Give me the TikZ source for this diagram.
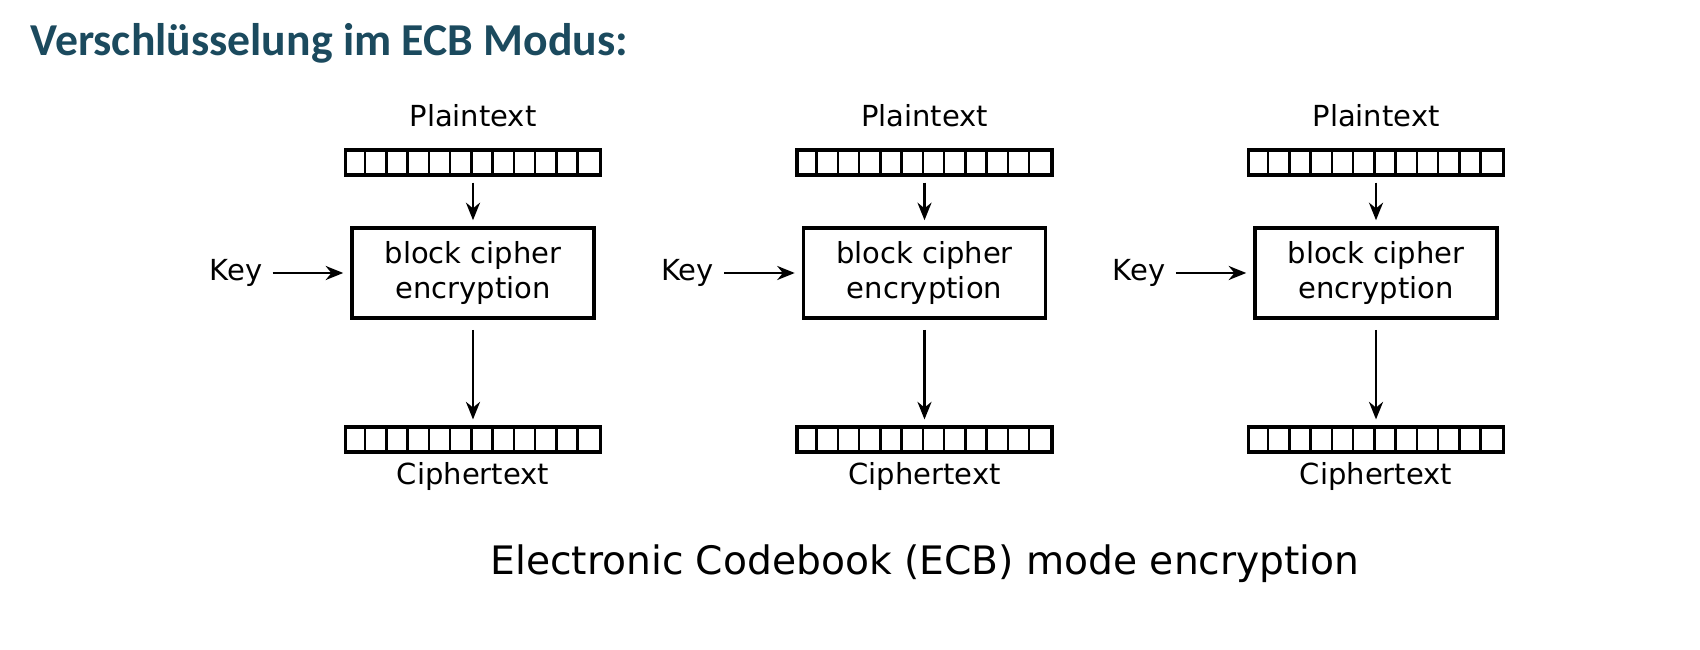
\documentclass[tikz,border=0pt]{standalone}
\usepackage{fontspec}
\setmainfont{DejaVu Sans}
\newfontfamily\titlefont{Carlito}
\usetikzlibrary{arrows.meta, positioning}
\definecolor{titleblue}{HTML}{1B4A5E}
\tikzset{
  label/.style={font=\fontsize{16.5}{20}\selectfont, inner sep=0pt},
  bar/.style={rectangle, draw=black, line width=1.8pt, minimum width=5.1cm, minimum height=0.5cm, inner sep=0pt},
  cipherbox/.style={rectangle, draw=black, line width=2pt, minimum width=4.84cm, minimum height=1.8cm, align=center, font=\fontsize{16.5}{20}\selectfont},
  arrow/.style={line width=1.4pt, -{Stealth[length=10pt, width=8pt]}}
}
\begin{document}
\begin{tikzpicture}
\useasboundingbox (0,0) rectangle (34,-13);
\node[anchor=west, text=titleblue, font=\titlefont\bfseries\fontsize{26}{31}\selectfont, inner sep=0pt] (title) at (0.6,-0.86) {Verschlüsselung im ECB Modus:};

\foreach \i in {0,1,2} {
  \pgfmathsetmacro{\cx}{9.46+\i*9.03}
  \node (plain\i) [label] at (\cx,-2.32) {Plaintext};
  \node (pbar\i) [bar] at (\cx,-3.25) {};
  \node (box\i) [cipherbox] at (\cx,-5.46) {block cipher\\encryption};
  \node (key\i) [label, left=1.75cm of box\i] {Key};
  \node (cbar\i) [bar] at (\cx,-8.79) {};
  \node (cipher\i) [label] at (\cx,-9.54) {Ciphertext};
  % cells of the bars
  \foreach \k in {1,...,11} {
    \draw[line width=1.4pt] ([xshift=\k*0.425cm]pbar\i.north west) -- ([xshift=\k*0.425cm]pbar\i.south west);
    \draw[line width=1.4pt] ([xshift=\k*0.425cm]cbar\i.north west) -- ([xshift=\k*0.425cm]cbar\i.south west);
  }
  \draw[arrow, shorten <=0.12cm, shorten >=0.12cm] (pbar\i) -- (box\i);
  \draw[arrow, shorten <=0.2cm, shorten >=0.12cm] (box\i) -- (cbar\i);
  \draw[arrow, shorten <=0.2cm, shorten >=0.14cm] (key\i) -- (box\i);
}

\node (caption) [font=\fontsize{22.3}{26}\selectfont] at (18.5,-11.28) {Electronic Codebook (ECB) mode encryption};
\end{tikzpicture}
\end{document}
